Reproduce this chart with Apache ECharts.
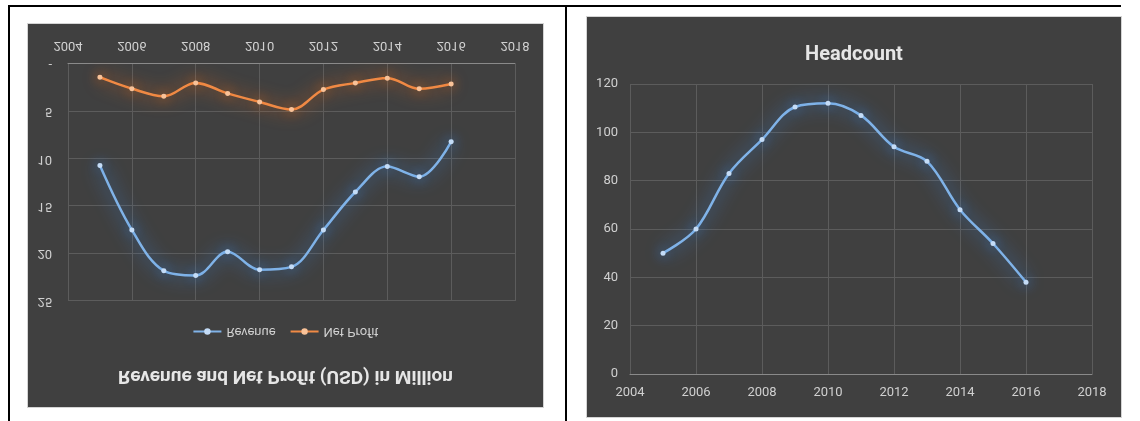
<!DOCTYPE html>
<html>
<head>
<meta charset="utf-8">
<script src="https://cdn.jsdelivr.net/npm/echarts@6/dist/echarts.min.js"></script>
<style>
  html, body { margin: 0; padding: 0; background: #fff; }
  body { width: 1140px; height: 421px; position: relative; overflow: hidden; }
  .rule { position: absolute; background: #000; }
  .panel { position: absolute; background: #404040; box-sizing: border-box; border: 1px solid #d4d4d4; }
  #revenue-chart { left: 27px; top: 23px; width: 517px; height: 385px; transform: scaleY(-1); }
  #headcount-chart { left: 586px; top: 16px; width: 536px; height: 402px; }
</style>
</head>
<body>
  <div class="rule" style="left:8px; top:5px; width:1113px; height:2px;"></div>
  <div class="rule" style="left:8px; top:5px; width:2px; height:416px;"></div>
  <div class="rule" style="left:565px; top:5px; width:2px; height:416px;"></div>
  <div id="revenue-chart" class="panel"></div>
  <div id="headcount-chart" class="panel"></div>

<script>
// 数据
var years = [2005, 2006, 2007, 2008, 2009, 2010, 2011, 2012, 2013, 2014, 2015, 2016];
var revenue = [10.7, 17.5, 21.8, 22.3, 19.8, 21.7, 21.4, 17.5, 13.5, 10.8, 11.9, 8.2];
var netProfit = [1.4, 2.6, 3.4, 2.0, 3.1, 4.0, 4.8, 2.7, 2.0, 1.5, 2.6, 2.1];
var headcount = [50, 60, 83, 97, 110.5, 112, 107, 94, 88, 68, 54, 38];
var yearTicks = [2004, 2006, 2008, 2010, 2012, 2014, 2016, 2018];

var font = "Roboto, sans-serif";
var labelColor = "#d0d0d0";
var gridColor = "#5c5c5c";

function pairs(values) {
  return years.map(function (y, i) { return [y, values[i]]; });
}

function xAxisCfg(fontSize) {
  return {
    type: "value",
    min: yearTicks[0],
    max: yearTicks[yearTicks.length - 1],
    interval: 2,
    axisLine: { show: true, lineStyle: { color: "#8a8a8a" } },
    axisTick: { show: false },
    axisLabel: {
      color: labelColor, fontFamily: font, fontSize: fontSize, margin: 12,
      formatter: function (v) { return String(v); } // 年份不要千位分隔
    },
    splitLine: { show: true, lineStyle: { color: gridColor } }
  };
}

function glowLine(name, data, color, glow, markColor) {
  return {
    name: name,
    type: "line",
    data: data,
    smooth: 0.35,
    symbol: "circle",
    symbolSize: 5,
    lineStyle: { color: color, width: 2.5, shadowColor: glow, shadowBlur: 18 },
    itemStyle: { color: markColor, shadowColor: glow, shadowBlur: 12 },
    emphasis: { disabled: true }
  };
}

// 左图：整体上下翻转显示
var revChart = echarts.init(document.getElementById("revenue-chart"));
revChart.setOption({
  animation: false,
  title: {
    text: "Revenue and Net Profit (USD) in Million",
    left: "center",
    top: 17,
    textStyle: { color: "#e6e6e6", fontSize: 19, fontWeight: "bold", fontFamily: font }
  },
  legend: {
    top: 64,
    left: "center",
    itemWidth: 28,
    itemHeight: 8,
    itemGap: 14,
    textStyle: { color: labelColor, fontFamily: font, fontSize: 13 },
    data: ["Revenue", "Net Profit"]
  },
  grid: { left: 40, right: 28, top: 106, bottom: 40 },
  xAxis: xAxisCfg(13),
  yAxis: {
    type: "value",
    min: 0,
    max: 25,
    interval: 5,
    axisLine: { show: false },
    axisTick: { show: false },
    axisLabel: {
      color: labelColor, fontFamily: font, fontSize: 13, margin: 16,
      formatter: function (v) { return v === 0 ? "-" : v; }
    },
    splitLine: { lineStyle: { color: gridColor } }
  },
  series: [
    glowLine("Revenue", pairs(revenue), "#80b3e8", "rgba(60,140,235,1)", "#c4dcf7"),
    glowLine("Net Profit", pairs(netProfit), "#f08a45", "rgba(245,110,25,1)", "#f9c298")
  ]
});

// 右图：人数
var hcChart = echarts.init(document.getElementById("headcount-chart"));
hcChart.setOption({
  animation: false,
  title: {
    text: "Headcount",
    left: "center",
    top: 23,
    textStyle: { color: "#e6e6e6", fontSize: 20, fontWeight: "bold", fontFamily: font }
  },
  grid: { left: 43, right: 29, top: 67, bottom: 43 },
  xAxis: xAxisCfg(13),
  yAxis: {
    type: "value",
    min: 0,
    max: 120,
    interval: 20,
    axisLine: { show: false },
    axisTick: { show: false },
    axisLabel: { color: labelColor, fontFamily: font, fontSize: 13, margin: 12 },
    splitLine: { lineStyle: { color: gridColor } }
  },
  series: [
    glowLine("Headcount", pairs(headcount), "#80b3e8", "rgba(60,140,235,1)", "#c4dcf7")
  ]
});
</script>
</body>
</html>
